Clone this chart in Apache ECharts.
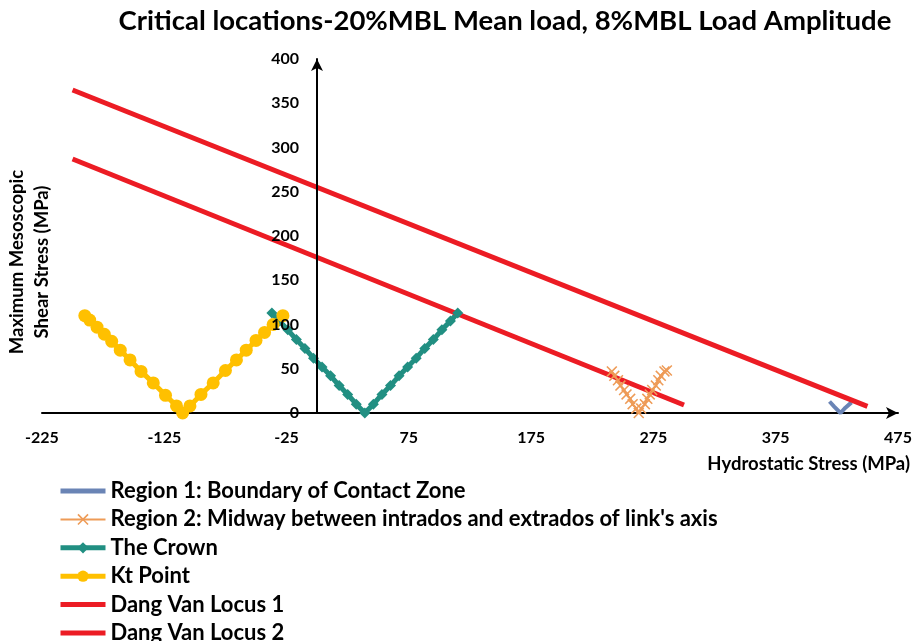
<!DOCTYPE html>
<html>
<head>
<meta charset="utf-8">
<script src="https://cdn.jsdelivr.net/npm/echarts@6/dist/echarts.min.js"></script>
<style>
  html, body { margin: 0; padding: 0; background: #fff; }
  #chart { width: 916px; height: 641px; }
</style>
</head>
<body>
<div id="chart"></div>
<script>
// values (hydrostatic stress x, shear stress y, MPa)
const region1X = [419, 423, 428, 432, 437];
const region1Y = [13, 7, 0, 6, 12];

const region2X = [241, 243, 246, 248, 251, 253, 256, 258, 261, 263, 265, 268, 270, 272, 274, 277, 279, 281, 284, 286];
const region2Y = [47, 42, 37, 31, 26, 21, 16, 10, 5, 0, 5, 10, 16, 21, 26, 31, 37, 42, 47, 48];

const crownX = [-37, -31, -24, -17, -10, -3, 4, 11, 18, 25, 32, 39, 46, 53, 60, 67, 74, 81, 88, 95, 102, 109, 115];
const crownY = [113, 104, 94, 83, 73, 62, 52, 42, 31, 21, 10, 0, 10, 21, 31, 42, 52, 62, 73, 83, 94, 104, 113];

const ktX = [-190, -186, -180, -174, -168, -161, -153, -144, -134, -124, -115, -110, -104, -95, -85, -75, -66, -58, -50, -43, -36, -28];
const ktY = [110, 105, 97, 89, 81, 71, 60, 47, 34, 20, 8, 0, 8, 21, 34, 48, 60, 71, 82, 91, 100, 110];

const dv1X = [-200, 450];
const dv1Y = [365, 7.5];
const dv2X = [-200, 300];
const dv2Y = [287, 9];

const seriesNames = [
  'Region 1: Boundary of Contact Zone',
  "Region 2: Midway between intrados and extrados of link's axis",
  'The Crown',
  'Kt Point',
  'Dang Van Locus 1',
  'Dang Van Locus 2'
];
const xLabelTicks = [-225, -125, -25, 75, 175, 275, 375, 475];

const FONT = 'Lato';
const pairs = (xs, ys) => xs.map((x, i) => [x, ys[i]]);
const crossPath = 'path://M0,1 L1,0 L5,4 L9,0 L10,1 L6,5 L10,9 L9,10 L5,6 L1,10 L0,9 L4,5 Z';

const chart = echarts.init(document.getElementById('chart'), null, { renderer: 'canvas' });

chart.setOption({
  animation: false,
  backgroundColor: '#fff',
  textStyle: { fontFamily: FONT },
  grid: { left: 42, right: 18, top: 59, bottom: 228 },
  graphic: [
    {
      type: 'text', x: 505, y: 7,
      style: {
        text: 'Critical locations-20%MBL Mean load, 8%MBL Load Amplitude',
        font: 'bold 27.5px ' + FONT, fill: '#000', align: 'center'
      }
    },
    {
      type: 'text', x: 910, y: 455,
      style: {
        text: 'Hydrostatic Stress (MPa)', font: 'bold 18.5px ' + FONT,
        fill: '#000', align: 'right'
      }
    },
    {
      type: 'text', x: 30, y: 262, rotation: Math.PI / 2,
      style: {
        text: 'Maximum Mesoscopic\nShear Stress (MPa)', font: 'bold 18.5px ' + FONT,
        fill: '#000', align: 'center', verticalAlign: 'middle', lineHeight: 25
      }
    }
  ],
  legend: {
    orient: 'vertical',
    left: 58,
    top: 480,
    height: 200,
    padding: 0,
    itemWidth: 45,
    itemHeight: 14,
    itemGap: 6.4,
    data: [
      { name: seriesNames[0], itemStyle: { opacity: 0 }, lineStyle: { width: 5 } },
      { name: seriesNames[1], lineStyle: { width: 2 } },
      { name: seriesNames[2], lineStyle: { width: 5 } },
      { name: seriesNames[3], lineStyle: { width: 5 } },
      { name: seriesNames[4], itemStyle: { opacity: 0 }, lineStyle: { width: 5 } },
      { name: seriesNames[5], itemStyle: { opacity: 0 }, lineStyle: { width: 5 } }
    ],
    textStyle: { fontFamily: FONT, fontWeight: 'bold', fontSize: 22, color: '#000', lineHeight: 22 }
  },
  xAxis: {
    type: 'value',
    min: -225,
    max: 475,
    interval: 25,
    splitLine: { show: false },
    axisTick: { show: false },
    axisLine: {
      lineStyle: { color: '#000', width: 2 },
      symbol: ['none', 'arrow'], symbolSize: [9, 12], symbolOffset: [0, 0]
    },
    axisLabel: {
      margin: 17,
      fontFamily: FONT, fontWeight: 'bold', fontSize: 16, color: '#000',
      formatter: (v) => (xLabelTicks.includes(v) ? String(v) : '')
    }
  },
  yAxis: {
    type: 'value',
    position: 'left',
    offset: -275,
    min: 0,
    max: 400,
    interval: 50,
    z: 5,
    splitLine: { show: false },
    axisTick: { show: false },
    axisLine: {
      onZero: false,
      lineStyle: { color: '#000', width: 2 },
      symbol: ['none', 'arrow'], symbolSize: [9, 12], symbolOffset: [0, 0]
    },
    axisLabel: { margin: 18, fontFamily: FONT, fontWeight: 'bold', fontSize: 16, color: '#000' }
  },
  series: [
    {
      name: seriesNames[0], type: 'line', data: pairs(region1X, region1Y),
      symbol: 'none',
      lineStyle: { color: '#6A84B5', width: 4 }, itemStyle: { color: '#6A84B5' }
    },
    {
      name: seriesNames[1], type: 'line', data: pairs(region2X, region2Y),
      symbol: crossPath, symbolSize: 11,
      lineStyle: { color: '#EE9B57', width: 2 }, itemStyle: { color: '#EE9B57' }
    },
    {
      name: seriesNames[2], type: 'line', data: pairs(crownX, crownY),
      symbol: 'diamond', symbolSize: 11,
      lineStyle: { color: '#218F82', width: 5 }, itemStyle: { color: '#218F82' }
    },
    {
      name: seriesNames[3], type: 'line', data: pairs(ktX, ktY),
      symbol: 'circle', symbolSize: 13,
      lineStyle: { color: '#FFC000', width: 5 }, itemStyle: { color: '#FFC000' }
    },
    {
      name: seriesNames[4], type: 'line', data: pairs(dv1X, dv1Y),
      symbol: 'none',
      lineStyle: { color: '#EC1C24', width: 5 }, itemStyle: { color: '#EC1C24' }
    },
    {
      name: seriesNames[5], type: 'line', data: pairs(dv2X, dv2Y),
      symbol: 'none',
      lineStyle: { color: '#EC1C24', width: 5 }, itemStyle: { color: '#EC1C24' }
    }
  ]
});
</script>
</body>
</html>
